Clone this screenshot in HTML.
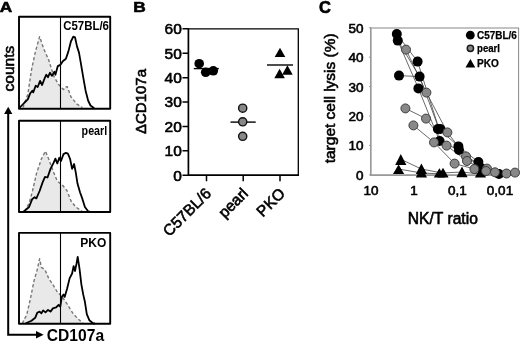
<!DOCTYPE html>
<html><head><meta charset="utf-8"><title>Figure</title>
<style>
html,body{margin:0;padding:0;background:#fff;}
svg{display:block;}
text{font-family:"Liberation Sans",sans-serif;fill:#000;}
.b{font-weight:bold;}
.h{stroke:#000;stroke-width:0.6px;}
.p{stroke:#000;stroke-width:0.6px;}
</style></head><body>
<svg width="520" height="342" viewBox="0 0 520 342">
<rect width="520" height="342" fill="#fff"/>

<text class="b p" font-size="15" transform="translate(-0.2,12.4) scale(1.15,1)">A</text>
<text class="h" font-size="15.5" transform="translate(13.9,91.4) rotate(-90)">counts</text>
<g stroke-linejoin="round">
<path d="M23.0,107.5 L24.5,103.0 L27.8,94.4 L31.5,69.8 L35.2,52.6 L39.6,36.6 L43.8,48.9 L48.7,60.0 L53.7,76.0 L58.6,84.6 L63.5,89.5 L65.5,87.0 L67.2,86.6 L70.9,96.8 L77.0,104.2 L82.4,107.5 Z" fill="#e9e9e9" stroke="none"/>
<path d="M23.0,107.5 L24.5,103.0 L27.8,94.4 L31.5,69.8 L35.2,52.6 L39.6,36.6 L43.8,48.9 L48.7,60.0 L53.7,76.0 L58.6,84.6 L63.5,89.5 L65.5,87.0 L67.2,86.6 L70.9,96.8 L77.0,104.2 L82.4,107.5" fill="none" stroke="#777" stroke-width="1.4" stroke-dasharray="3.2,2.2"/>
<path d="M19.2,108.2 L24.1,103.0 L27.8,99.3 L30.3,93.2 L32.3,90.7 L33.2,92.4 L35.7,85.8 L37.7,87.0 L40.1,80.9 L42.1,85.0 L44.6,78.4 L46.3,74.7 L48.0,77.2 L50.0,72.7 L51.9,75.9 L54.4,71.8 L55.4,74.7 L57.8,66.1 L60.3,64.9 L62.8,61.2 L65.9,58.7 L68.4,51.4 L70.9,41.5 L73.3,36.6 L75.0,37.3 L77.0,46.4 L79.0,52.6 L80.7,62.4 L83.2,77.2 L85.6,90.7 L88.1,100.5 L90.5,105.5 L94.2,108.2" fill="none" stroke="#000" stroke-width="1.8"/>
<line x1="60.5" y1="16.80" x2="60.5" y2="108.80" stroke="#000" stroke-width="1.1"/>
<rect x="19" y="16.80" width="91.2" height="92.00" fill="none" stroke="#000" stroke-width="1.9"/>
</g>
<g stroke-linejoin="round">
<path d="M25.0,211.5 L26.5,208.0 L29.1,203.3 L32.8,189.8 L36.4,173.8 L41.4,159.0 L45.5,151.2 L48.7,159.0 L53.7,172.6 L57.3,181.2 L62.3,184.9 L67.2,191.0 L70.9,200.8 L75.8,207.0 L82.4,211.5 Z" fill="#e9e9e9" stroke="none"/>
<path d="M25.0,211.5 L26.5,208.0 L29.1,203.3 L32.8,189.8 L36.4,173.8 L41.4,159.0 L45.5,151.2 L48.7,159.0 L53.7,172.6 L57.3,181.2 L62.3,184.9 L67.2,191.0 L70.9,200.8 L75.8,207.0 L82.4,211.5" fill="none" stroke="#777" stroke-width="1.4" stroke-dasharray="3.2,2.2"/>
<path d="M23.4,211.7 L29.1,207.0 L32.3,198.9 L34.7,197.2 L36.4,198.4 L39.6,191.0 L42.6,182.4 L45.0,176.8 L47.5,177.5 L50.5,168.9 L53.7,162.7 L55.4,158.6 L57.3,163.5 L59.3,157.8 L61.0,161.0 L63.5,154.1 L65.9,152.9 L67.9,153.6 L70.1,159.0 L72.1,168.9 L74.1,164.0 L75.8,172.6 L77.5,183.6 L80.0,192.2 L82.4,198.9 L84.9,207.0 L88.1,211.3 L90.0,211.7" fill="none" stroke="#000" stroke-width="1.8"/>
<line x1="60.5" y1="120.75" x2="60.5" y2="212.00" stroke="#000" stroke-width="1.1"/>
<rect x="19" y="120.75" width="91.2" height="91.25" fill="none" stroke="#000" stroke-width="1.9"/>
</g>
<g stroke-linejoin="round">
<path d="M22.5,323.5 L24.0,319.5 L26.6,315.3 L30.3,299.3 L34.0,280.9 L37.2,269.8 L39.6,258.8 L41.4,267.4 L45.0,269.8 L48.7,278.4 L53.7,285.8 L57.3,292.0 L62.3,296.9 L67.2,304.2 L73.3,314.0 L78.2,319.0 L83.2,323.5 Z" fill="#e9e9e9" stroke="none"/>
<path d="M22.5,323.5 L24.0,319.5 L26.6,315.3 L30.3,299.3 L34.0,280.9 L37.2,269.8 L39.6,258.8 L41.4,267.4 L45.0,269.8 L48.7,278.4 L53.7,285.8 L57.3,292.0 L62.3,296.9 L67.2,304.2 L73.3,314.0 L78.2,319.0 L83.2,323.5" fill="none" stroke="#777" stroke-width="1.4" stroke-dasharray="3.2,2.2"/>
<path d="M25.4,323.5 L31.5,320.7 L35.2,317.8 L37.2,312.8 L39.6,311.6 L41.4,313.3 L43.1,310.4 L45.5,312.4 L48.0,309.9 L50.5,311.6 L52.9,308.4 L56.1,307.4 L58.6,305.0 L60.3,306.7 L61.8,296.9 L63.5,294.4 L64.7,296.9 L67.2,288.3 L69.6,278.4 L72.1,273.5 L73.6,266.1 L75.0,271.0 L76.5,263.7 L77.7,256.8 L79.5,268.6 L81.4,284.6 L83.2,294.4 L84.9,301.8 L86.8,314.1 L89.3,320.2 L93.0,323.3 L95.0,323.5" fill="none" stroke="#000" stroke-width="1.8"/>
<line x1="60.5" y1="232.90" x2="60.5" y2="323.80" stroke="#000" stroke-width="1.1"/>
<rect x="19" y="232.90" width="91.2" height="90.90" fill="none" stroke="#000" stroke-width="1.9"/>
</g>
<text class="b" x="63.2" y="30.3" font-size="12.6" textLength="45.8" lengthAdjust="spacingAndGlyphs">C57BL/6</text>
<text class="b" x="81.6" y="135" font-size="12.4" textLength="25.6" lengthAdjust="spacingAndGlyphs">pearl</text>
<text class="b" x="80.3" y="246.7" font-size="12">PKO</text>
<path d="M8.2,113 V334.7 H37" fill="none" stroke="#000" stroke-width="2"/>
<path d="M8.2,106.8 L4.1,114 L12.3,114 Z" fill="#000"/>
<path d="M43.7,334.7 L36,330.9 L36,338.5 Z" fill="#000"/>
<text class="b" x="46.8" y="340.8" font-size="16.2" textLength="57.3" lengthAdjust="spacingAndGlyphs">CD107a</text>
<text class="b p" font-size="15.3" transform="translate(133.2,12.3) scale(1.13,1)">B</text>
<g class="h" font-size="15.5" text-anchor="end">
<text x="181.8" y="34.25">60</text>
<text x="181.8" y="58.64">50</text>
<text x="181.8" y="83.03">40</text>
<text x="181.8" y="107.43">30</text>
<text x="181.8" y="131.82">20</text>
<text x="181.8" y="156.21">10</text>
<text x="181.8" y="180.60">0</text>
</g>
<path d="M188.4,28.85 H298.3 V175.20" fill="none" stroke="#000" stroke-width="1.3"/>
<path d="M188.4,28.15 V175.20 H299" fill="none" stroke="#000" stroke-width="1.7"/>
<path d="M182.5,28.85 H188.4 M182.5,53.24 H188.4 M182.5,77.63 H188.4 M182.5,102.03 H188.4 M182.5,126.42 H188.4 M182.5,150.81 H188.4 M182.5,175.20 H188.4 M206.5,175.20 V181.2 M243.2,175.20 V181.2 M280,175.20 V181.2" stroke="#000" stroke-width="1.5" fill="none"/>
<text class="h" font-size="15" transform="translate(145.8,134) rotate(-90)">ΔCD107a</text>
<g class="h" font-size="15.5" text-anchor="end">
<text transform="translate(212,194.5) rotate(-45)">C57BL/6</text>
<text transform="translate(249,194.5) rotate(-45)">pearl</text>
<text transform="translate(286,194.5) rotate(-45)">PKO</text>
</g>
<g stroke="#000" stroke-width="1.4">
<line x1="193.8" y1="68.6" x2="218.8" y2="68.6"/>
<line x1="230.5" y1="122.1" x2="255.8" y2="122.1"/>
<line x1="267" y1="65" x2="293" y2="65"/>
</g>
<g fill="#000">
<circle cx="199.2" cy="63.7" r="4.8"/>
<circle cx="205.7" cy="72.3" r="4.8"/>
<circle cx="213.3" cy="70.8" r="4.8"/>
<path d="M280.0,47.8 l5.3,9.2 h-10.6 Z"/>
<path d="M287.4,65.3 l5.3,9.4 h-10.6 Z"/>
<path d="M279.6,68.8 l5.3,9.4 h-10.6 Z"/>
</g>
<g fill="#878787" stroke="#111" stroke-width="1.4">
<circle cx="242.7" cy="108.2" r="4.1"/>
<circle cx="242.7" cy="121.8" r="4.1"/>
<circle cx="242.7" cy="136.3" r="4.1"/>
</g>
<text class="b p" font-size="16" transform="translate(318.9,12.6) scale(1.03,1)">C</text>
<rect x="370.6" y="28" width="148" height="147" fill="none" stroke="#888" stroke-width="1"/>
<path d="M370.8,27.5 V175.2 H519" fill="none" stroke="#999" stroke-width="1.6"/>
<path d="M369,27.8 h1.8 M369,57.2 h1.8 M369,86.6 h1.8 M369,116.0 h1.8 M369,145.4 h1.8 M369,174.8 h1.8" stroke="#999" stroke-width="1" fill="none"/>
<g class="h" font-size="13.5" text-anchor="end">
<text x="363.5" y="32.9">50</text>
<text x="363.5" y="62.2">40</text>
<text x="363.5" y="91.6">30</text>
<text x="363.5" y="121.0">20</text>
<text x="363.5" y="150.3">10</text>
<text x="363.5" y="179.7">0</text>
</g>
<g class="h" font-size="13.5" text-anchor="middle">
<text x="371" y="194.5">10</text>
<text x="414" y="194.5">1</text>
<text x="457.4" y="194.5">0,1</text>
<text x="500" y="194.5">0,01</text>
</g>
<text class="h" font-size="16.5" text-anchor="middle" transform="translate(442.8,224) scale(0.95,1)">NK/T ratio</text>
<text class="h" font-size="15.5" text-anchor="middle" transform="translate(335,98.3) rotate(-90)">target cell lysis (%)</text>
<g fill="none" stroke="#444" stroke-width="0.8">
<polyline points="396.8,34.0 417.6,61.6 439.0,129.0 458.6,146.4 478.4,162.0 499.0,174.0"/>
<polyline points="397.8,40.6 418.4,88.4 439.6,141.0 459.0,150.0 481.0,168.0"/>
<polyline points="399.0,75.6 419.6,76.6 439.0,129.0"/>
<polyline points="397.8,40.6 419.6,76.6"/>
<polyline points="406.0,49.6 426.4,92.6 447.4,132.4 466.0,156.4 487.0,168.6 506.5,173.5"/>
<polyline points="405.4,108.4 426.0,118.6 446.6,145.6 467.0,161.0 486.0,171.0 515.0,172.6"/>
<polyline points="413.4,125.4 434.0,142.4 454.6,163.6 474.4,169.0 495.0,172.3"/>
<polyline points="401.0,159.4 421.4,169.0 442.0,173.0 462.0,172.0 480.0,174.0"/>
<polyline points="398.6,169.0 421.4,173.0 444.0,174.0"/>
</g>
<g fill="#000">
<path d="M400.8,154.0 l5.6,11.0 h-11.2 Z"/>
<path d="M398.6,164.5 l5.6,9.5 h-11.2 Z"/>
<path d="M421.4,163.4 l5.6,10.6 h-11.2 Z"/>
<path d="M421.4,167.0 l5.6,10.6 h-11.2 Z"/>
<path d="M439.4,168.3 l5.6,9.3 h-11.2 Z"/>
<path d="M443.0,167.8 l5.6,9.8 h-11.2 Z"/>
<path d="M462.0,166.6 l5.6,10.6 h-11.2 Z"/>
<path d="M480.5,167.5 l5.6,10.1 h-11.2 Z"/>
</g>
<g fill="#000">
<circle cx="396.8" cy="34" r="5"/>
<circle cx="397.8" cy="40.6" r="5"/>
<circle cx="417.6" cy="61.6" r="5"/>
<circle cx="399" cy="75.6" r="5"/>
<circle cx="419.6" cy="76.6" r="5"/>
<circle cx="418.4" cy="88.4" r="5"/>
<circle cx="437.9" cy="129" r="5"/>
<circle cx="440.3" cy="129" r="5"/>
<circle cx="439.6" cy="141" r="5"/>
<circle cx="458.4" cy="146.4" r="5"/>
<circle cx="459" cy="150" r="5"/>
<circle cx="478.4" cy="162" r="5"/>
<circle cx="481" cy="168" r="5"/>
<circle cx="499" cy="174" r="5"/>
</g>
<g fill="#888" stroke="#333" stroke-width="0.9">
<circle cx="406" cy="49.6" r="4.5"/>
<circle cx="426.4" cy="92.6" r="4.5"/>
<circle cx="405.4" cy="108.4" r="4.5"/>
<circle cx="426" cy="118.6" r="4.5"/>
<circle cx="413.4" cy="125.4" r="4.5"/>
<circle cx="447.4" cy="132.4" r="4.5"/>
<circle cx="434" cy="142.4" r="4.5"/>
<circle cx="446.6" cy="145.6" r="4.5"/>
<circle cx="466" cy="156.4" r="4.5"/>
<circle cx="467" cy="161" r="4.5"/>
<circle cx="454.6" cy="163.6" r="4.5"/>
<circle cx="474.4" cy="169" r="4.5"/>
<circle cx="487" cy="168.6" r="4.5"/>
<circle cx="486" cy="171" r="4.5"/>
<circle cx="495" cy="172.3" r="4.5"/>
<circle cx="506.5" cy="173.5" r="4.5"/>
<circle cx="515" cy="172.6" r="4.5"/>
</g>
<circle cx="470.3" cy="35.2" r="4.4" fill="#000"/>
<circle cx="470.4" cy="48.3" r="3.15" fill="#888" stroke="#1a1a1a" stroke-width="1.5"/>
<g fill="#000"><path d="M470.4,58.9 l4.9,8.7 h-9.8 Z"/></g>
<g class="b" font-size="10.8" stroke="#000" stroke-width="0.25">
<text x="477" y="38.5" textLength="39.8" lengthAdjust="spacingAndGlyphs">C57BL/6</text>
<text x="477" y="52.3" textLength="23" lengthAdjust="spacingAndGlyphs">pearl</text>
<text x="477" y="67.1" textLength="21.8" lengthAdjust="spacingAndGlyphs">PKO</text>
</g>
</svg>
</body></html>
